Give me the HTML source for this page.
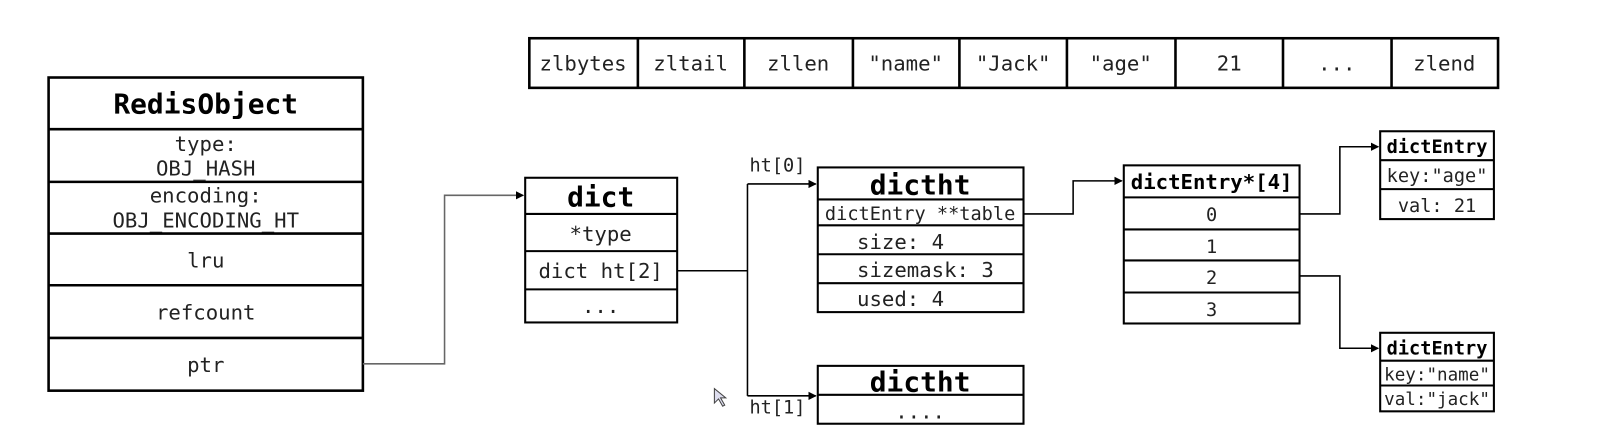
<!DOCTYPE html>
<html><head><meta charset="utf-8"><style>
html,body{margin:0;padding:0;background:#fff;}
svg{display:block;}
text{font-family:"DejaVu Sans Mono","Liberation Mono",monospace;fill:#222;}
.b{font-weight:bold;fill:#000;}
</style></head><body>
<svg width="1619" height="432" viewBox="0 0 1566 418" preserveAspectRatio="none" xmlns="http://www.w3.org/2000/svg">
<defs><marker id="a" markerWidth="8" markerHeight="8" refX="7" refY="4" orient="auto" markerUnits="userSpaceOnUse"><path d="M0,0 L8,4 L0,8z" fill="#000"/></marker></defs>
<g stroke="#000" fill="none" stroke-width="2.5">
<rect x="512" y="37" width="937" height="48"/>
<path d="M617 37V85M720 37V85M825 37V85M928 37V85M1032 37V85M1137 37V85M1241 37V85M1346 37V85"/>
<rect x="47" y="75" width="304" height="303"/>
<path d="M47 125H351M47 176H351M47 226H351M47 276H351M47 327H351"/>
<rect x="508" y="172" width="147" height="140" stroke-width="2"/>
<path d="M508 207H655M508 243H655M508 280H655" stroke-width="2"/>
<rect x="791" y="162" width="199" height="140" stroke-width="2"/>
<path d="M791 193H990M791 218H990M791 246H990M791 274H990" stroke-width="2"/>
<rect x="791" y="354" width="199" height="56" stroke-width="2"/>
<path d="M791 382H990" stroke-width="2"/>
<rect x="1087" y="160" width="170" height="153" stroke-width="2"/>
<path d="M1087 191H1257M1087 222H1257M1087 252H1257M1087 283H1257" stroke-width="2"/>
<rect x="1335" y="127" width="110" height="85" stroke-width="2"/>
<path d="M1335 155H1445M1335 183H1445" stroke-width="2"/>
<rect x="1335" y="322" width="110" height="76" stroke-width="2"/>
<path d="M1335 349H1445M1335 373H1445" stroke-width="2"/>
</g>
<g stroke="#000" fill="none" stroke-width="1.5">
<path d="M351 352H430V189H506" stroke="#666" marker-end="url(#a)"/>
<path d="M655 262H723M723 178V383" />
<path d="M723 178H789" marker-end="url(#a)"/>
<path d="M723 383H789" marker-end="url(#a)"/>
<path d="M990 207H1038V175H1085" marker-end="url(#a)"/>
<path d="M1257 207H1296V142H1333" marker-end="url(#a)"/>
<path d="M1257 267H1296V337H1333" marker-end="url(#a)"/>
</g>
<g font-size="20" text-anchor="middle">
<text x="564" y="68">zlbytes</text><text x="668" y="68">zltail</text><text x="772" y="68">zllen</text>
<text x="876" y="68">"name"</text><text x="980" y="68">"Jack"</text><text x="1084" y="68">"age"</text>
<text x="1189" y="68">21</text><text x="1293" y="68">...</text><text x="1397" y="68">zlend</text>
<text class="b" x="199" y="110" font-size="27">RedisObject</text>
<text x="199" y="146">type:</text><text x="199" y="170">OBJ_HASH</text>
<text x="199" y="196">encoding:</text><text x="199" y="220">OBJ_ENCODING_HT</text>
<text x="199" y="259">lru</text><text x="199" y="309">refcount</text><text x="199" y="360">ptr</text>
<text class="b" x="581" y="200" font-size="27">dict</text>
<text x="581" y="233">*type</text><text x="581" y="269">dict ht[2]</text><text x="581" y="303">...</text>
<text x="752" y="166" fill="#555" font-size="18">ht[0]</text>
<text x="752" y="400" fill="#555" font-size="18">ht[1]</text>
<text class="b" x="890" y="188" font-size="27">dictht</text>
<text x="890" y="213" font-size="18">dictEntry **table</text>
<text class="b" x="890" y="379" font-size="27">dictht</text>
<text x="890" y="405">....</text>
<text class="b" x="1172" y="183" font-size="20">dictEntry*[4]</text>
<text x="1172" y="214" font-size="18">0</text><text x="1172" y="245" font-size="18">1</text>
<text x="1172" y="275" font-size="18">2</text><text x="1172" y="306" font-size="18">3</text>
<text class="b" x="1390" y="148" font-size="18">dictEntry</text>
<text x="1390" y="176" font-size="18">key:"age"</text><text x="1390" y="205" font-size="18">val: 21</text>
<text class="b" x="1390" y="343" font-size="18">dictEntry</text>
<text x="1390" y="368" font-size="17">key:"name"</text><text x="1390" y="392" font-size="17">val:"jack"</text>
</g>
<g text-anchor="start" font-size="20">
<text x="829" y="241">size: 4</text><text x="829" y="268">sizemask: 3</text><text x="829" y="296">used: 4</text>
</g>
<path d="M691 376 L691 390 L695 386 L699 393 L701 392 L697 385 L702 385 Z" fill="#dde" stroke="#444" stroke-width="1"/>
</svg>
</body></html>
